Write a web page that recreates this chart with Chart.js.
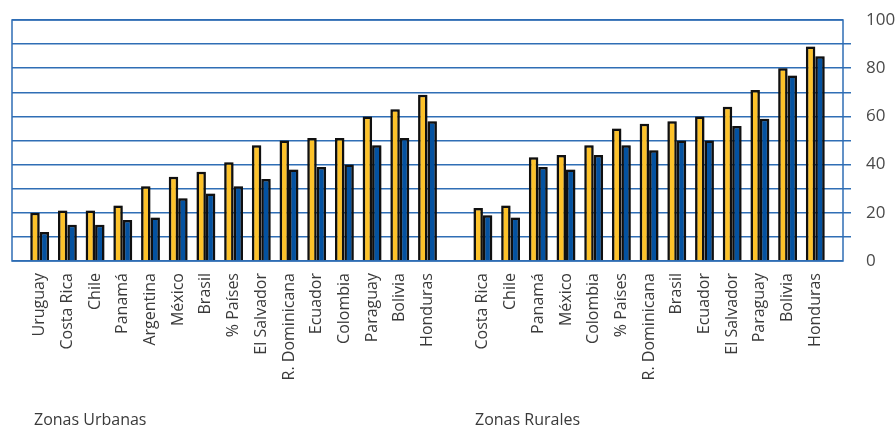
<!DOCTYPE html>
<html>
<head>
<meta charset="utf-8">
<script src="https://cdn.jsdelivr.net/npm/chart.js@4"></script>
<style>
    body { margin: 0; background: #fff; }
    #wrap { position: relative; width: 896px; height: 428px; }
    .zona { position: absolute; top: 408px; font-family: "Open Sans", sans-serif; font-size: 16px; color: #3a3a3a; }
</style>
</head>
<body>
<div id="wrap">
    <canvas id="chart" width="896" height="428"></canvas>
    <div class="zona" style="left: 34px;">Zonas Urbanas</div>
    <div class="zona" style="left: 475px;">Zonas Rurales</div>
</div>
<script>
// Zonas urbanas
const urbanLabels = ['Uruguay', 'Costa Rica', 'Chile', 'Panamá', 'Argentina', 'México', 'Brasil', '% Países',
    'El Salvador', 'R. Dominicana', 'Ecuador', 'Colombia', 'Paraguay', 'Bolivia', 'Honduras'];
const urbanYellow = [20, 21, 21, 23, 31, 35, 37, 41, 48, 50, 51, 51, 60, 63, 69];
const urbanBlue = [12, 15, 15, 17, 18, 26, 28, 31, 34, 38, 39, 40, 48, 51, 58];

// Zonas rurales
const ruralLabels = ['Costa Rica', 'Chile', 'Panamá', 'México', 'Colombia', '% Países', 'R. Dominicana',
    'Brasil', 'Ecuador', 'El Salvador', 'Paraguay', 'Bolivia', 'Honduras'];
const ruralYellow = [22, 23, 43, 44, 48, 55, 57, 58, 60, 64, 71, 80, 89];
const ruralBlue = [19, 18, 39, 38, 44, 48, 46, 50, 50, 56, 59, 77, 85];

const yTicks = [0, 20, 40, 60, 80, 100];

// empty slots at both ends and between the two zones
const labels = [''].concat(urbanLabels, [''], ruralLabels, ['']);
const yellowData = [null].concat(urbanYellow, [null], ruralYellow, [null]);
const blueData = [null].concat(urbanBlue, [null], ruralBlue, [null]);

const frame = {
    id: 'frame',
    beforeDatasetsDraw(chart) {
        // soft grey halo behind the bars
        chart.ctx.save();
        chart.ctx.shadowColor = 'rgba(0,0,0,0.35)';
        chart.ctx.shadowBlur = 2;
    },
    afterDatasetsDraw(chart) {
        chart.ctx.restore();
        const a = chart.chartArea;
        const ctx = chart.ctx;
        ctx.save();
        ctx.strokeStyle = '#2F6EB5';
        ctx.lineWidth = 1.5;
        ctx.strokeRect(a.left, a.top, a.right - a.left, a.bottom - a.top);
        ctx.restore();
    }
};

new Chart(document.getElementById('chart').getContext('2d'), {
    type: 'bar',
    data: {
        labels: labels,
        datasets: [{
            data: yellowData,
            backgroundColor: '#FDC22A',
            borderColor: '#111',
            borderWidth: 2.5,
            borderSkipped: 'bottom'
        }, {
            data: blueData,
            backgroundColor: '#0452A0',
            borderColor: '#111',
            borderWidth: 2.5,
            borderSkipped: 'bottom'
        }]
    },
    options: {
        responsive: false,
        animation: false,
        layout: { padding: { left: 12, top: 20, right: 0, bottom: 0 } },
        datasets: { bar: { categoryPercentage: 0.68, barPercentage: 1.0 } },
        plugins: {
            legend: { display: false },
            tooltip: { enabled: false }
        },
        scales: {
            x: {
                offset: false,
                grid: { display: false, drawTicks: false },
                border: { display: false },
                ticks: {
                    autoSkip: false,
                    minRotation: 90,
                    maxRotation: 90,
                    padding: 12,
                    color: '#3a3a3a',
                    font: { family: 'Open Sans', size: 16 }
                },
                afterFit: function (scale) { scale.height = 167; }
            },
            y: {
                position: 'right',
                min: 0,
                max: 100,
                border: { display: false },
                grid: {
                    color: '#2F6EB5',
                    lineWidth: 1.5,
                    tickLength: 8,
                    tickColor: function (c) {
                        return (c.tick.value === 0 || c.tick.value === 100) ? 'rgba(0,0,0,0)' : '#2F6EB5';
                    }
                },
                ticks: {
                    stepSize: 10,
                    padding: 15,
                    color: '#4a4a4a',
                    font: { family: 'Open Sans', size: 17, lineHeight: 1 },
                    callback: function (v) { return yTicks.includes(v) ? v : ''; }
                },
                afterFit: function (scale) {
                    scale.width = 53;
                    scale.paddingTop = 0;
                }
            }
        }
    },
    plugins: [frame]
});
</script>
</body>
</html>
